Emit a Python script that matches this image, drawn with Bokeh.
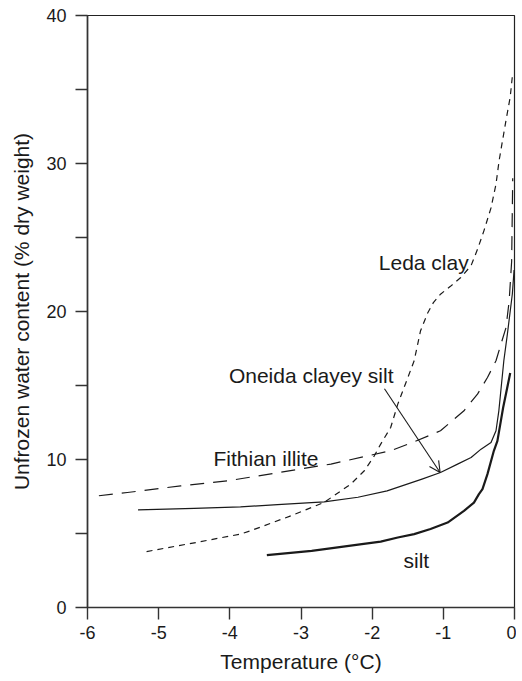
from bokeh.plotting import figure
from bokeh.models import Range1d, FixedTicker, Arrow, OpenHead, ColumnDataSource
from bokeh.core.properties import value
from bokeh.embed import file_html
from bokeh.resources import INLINE

# ---- data ----
leda_x = [-5.17, -4.5, -3.85, -3.7, -3.14, -2.675, -2.3, -2.11, -1.97, -1.88, -1.74, -1.64, -1.41, -1.32,
          -1.22, -1.14, -1.04, -0.9, -0.755, -0.61, -0.52, -0.43, -0.33, -0.26, -0.216, -0.17, -0.12, -0.06, -0.03]
leda_y = [3.78, 4.37, 4.96, 5.2, 6.2, 7.1, 8.34, 9.24, 10.25, 11.04, 12.16, 13.74, 16.67, 18.7,
          19.9, 20.6, 21.17, 21.7, 22.3, 23.1, 24.2, 25.45, 27.0, 28.6, 30.2, 31.5, 32.9, 34.5, 35.9]

fithian_x = [-5.84, -5.44, -4.69, -4.03, -3.85, -2.58, -1.74, -1.41, -1.04, -0.71, -0.52, -0.38, -0.26,
             -0.19, -0.12, -0.075, -0.04, -0.025]
fithian_y = [7.55, 7.77, 8.22, 8.56, 8.7, 9.69, 10.59, 11.2, 11.94, 13.29, 14.42, 15.54, 16.67,
             17.8, 18.9, 20.7, 23.4, 29.0]

oneida_x = [-5.29, -4.5, -3.85, -3.33, -2.675, -2.2, -1.79, -1.3, -1.04, -0.8, -0.61, -0.47, -0.33, -0.26,
            -0.22, -0.15, -0.1, -0.03, -0.006]
oneida_y = [6.6, 6.7, 6.8, 6.95, 7.14, 7.45, 7.88, 8.67, 9.12, 9.69, 10.13, 10.7, 11.15, 11.94,
            13.29, 16.67, 18.47, 21.2, 22.8]

silt_x = [-3.48, -2.85, -2.145, -1.88, -1.64, -1.41, -1.18, -0.94, -0.71, -0.57, -0.5, -0.45, -0.38,
          -0.29, -0.24, -0.16, -0.06]
silt_y = [3.54, 3.83, 4.28, 4.45, 4.73, 4.96, 5.3, 5.74, 6.53, 7.09, 7.66, 8.0, 9.01,
          10.59, 11.26, 13.5, 15.84]

x_ticks = [-6, -5, -4, -3, -2, -1, 0]
x_tick_labels = ["-6", "-5", "-4", "-3", "-2", "-1", "0"]
y_ticks = [0, 10, 20, 30, 40]
y_minor_ticks = [5, 15, 25, 35]

series_names = ["Leda clay", "Oneida clayey silt", "Fithian illite", "silt"]

# ---- figure ----
FONT = "Liberation Sans"
p = figure(width=516, height=676, x_range=Range1d(-6, 0), y_range=Range1d(0, 40),
           output_backend="svg", toolbar_location=None,
           min_border_left=87, min_border_right=2, min_border_top=15, min_border_bottom=69)
p.xgrid.visible = False
p.ygrid.visible = False
p.outline_line_color = "#222222"
p.outline_line_width = 1.2
p.background_fill_color = "white"
p.border_fill_color = "white"

for ax in (p.xaxis[0], p.yaxis[0]):
    ax.axis_line_color = "#333333"
    ax.axis_line_width = 1.6
    ax.major_tick_line_color = "#333333"
    ax.major_tick_line_width = 1.4
    ax.minor_tick_line_color = "#333333"
    ax.minor_tick_line_width = 1.4
    ax.major_tick_in = 0
    ax.major_tick_out = 12
    ax.minor_tick_in = 0
    ax.minor_tick_out = 12
    ax.major_label_text_font = FONT
    ax.major_label_text_font_size = "18px"
    ax.major_label_text_color = "#1a1a1a"
    ax.axis_label_text_font = FONT
    ax.axis_label_text_font_size = "21px"
    ax.axis_label_text_font_style = "normal"
    ax.axis_label_text_color = "#1a1a1a"

p.xaxis.ticker = FixedTicker(ticks=x_ticks)
p.xaxis.major_label_overrides = {t: s for t, s in zip(x_ticks, x_tick_labels)}
p.xaxis.minor_tick_line_color = None
p.xaxis.axis_label = "Temperature (°C)"
p.xaxis.major_label_standoff = 6
p.xaxis.axis_label_standoff = 8

p.yaxis.ticker = FixedTicker(ticks=y_ticks, minor_ticks=y_minor_ticks)
p.yaxis.axis_label = "Unfrozen water content (% dry weight)"
p.yaxis.major_label_standoff = 9
p.yaxis.axis_label_standoff = 10

# ---- curves ----
p.line(leda_x, leda_y, line_color="#1a1a1a", line_width=1.2, line_dash="6 5", line_join="round")
p.line(fithian_x, fithian_y, line_color="#1a1a1a", line_width=1.2, line_dash="14 9", line_join="round")
p.line(oneida_x, oneida_y, line_color="#1a1a1a", line_width=1.2, line_join="round")
p.line(silt_x, silt_y, line_color="#1a1a1a", line_width=2.2, line_join="round")

# ---- labels ----
label_src = ColumnDataSource(dict(
    x=[-1.907, -4.013, -4.23, -1.56],
    y=[23.31, 15.66, 10.09, 3.2],
    text=series_names,
))
p.text(x="x", y="y", text="text", source=label_src, text_font=value(FONT),
       text_font_size="21px", text_color="#1a1a1a", text_align="left",
       text_baseline="alphabetic")

p.add_layout(Arrow(end=OpenHead(size=11, line_width=1.1, line_color="#1a1a1a"),
                   x_start=-1.827, y_start=14.78, x_end=-1.045, y_end=9.12,
                   line_width=1.1, line_color="#1a1a1a"))

open("out.html", "w").write(file_html(p, INLINE))
